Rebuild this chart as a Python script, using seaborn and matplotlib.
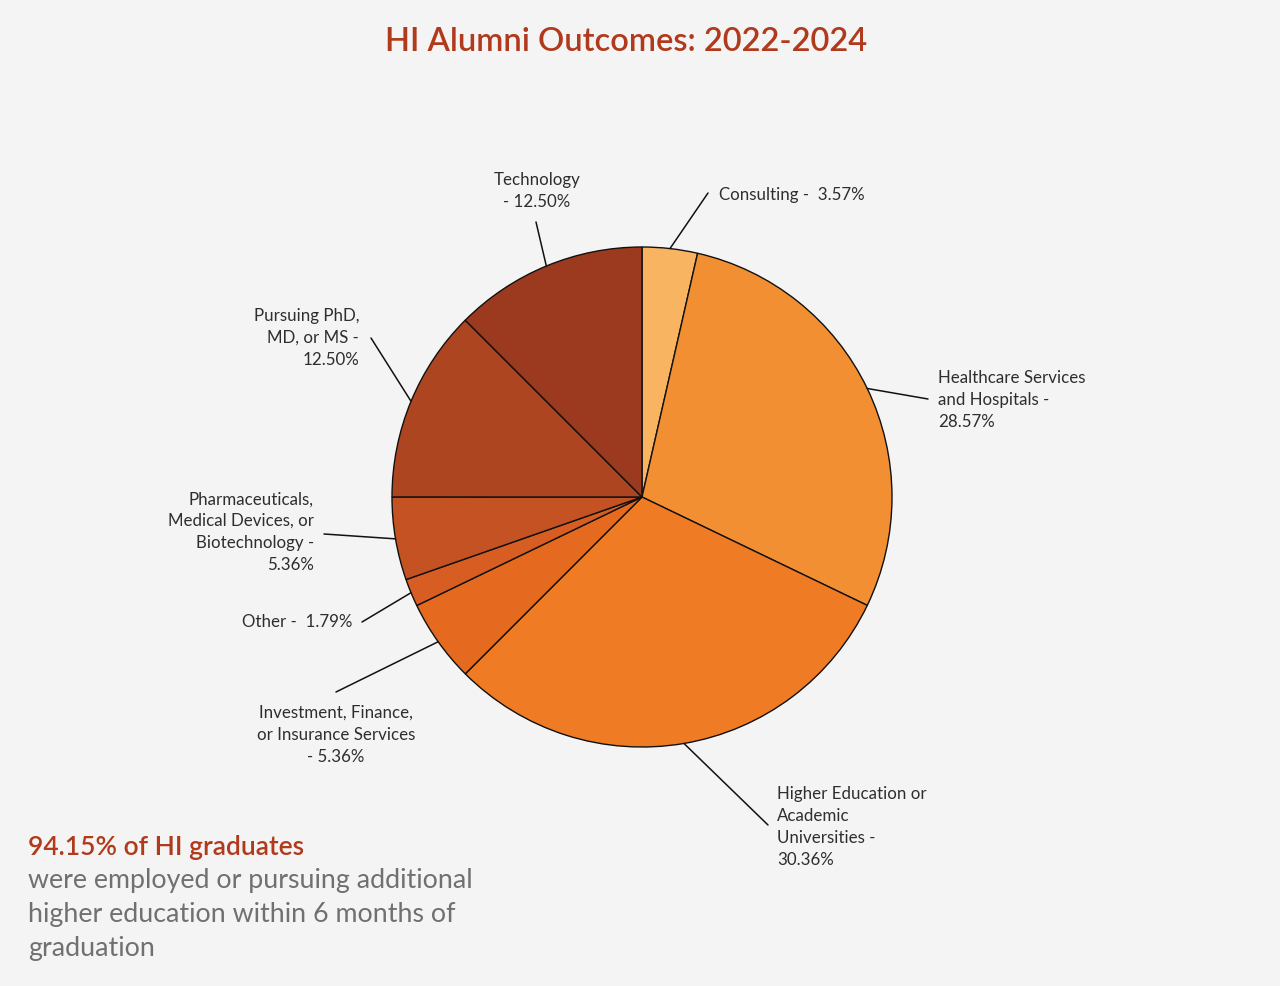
import numpy as np
import matplotlib
matplotlib.use("Agg")
import matplotlib.pyplot as plt
import seaborn as sns

# ---- data ----
categories = ["Consulting", "Healthcare Services and Hospitals", "Higher Education or Academic Universities",
              "Investment, Finance, or Insurance Services", "Other",
              "Pharmaceuticals, Medical Devices, or Biotechnology", "Pursuing PhD, MD, or MS", "Technology"]
shares = [3.57, 28.57, 30.36, 5.36, 1.79, 5.36, 12.50, 12.50]
label_texts = ["Consulting -  3.57%",
               "Healthcare Services\nand Hospitals -\n28.57%",
               "Higher Education or\nAcademic\nUniversities -\n30.36%",
               "Investment, Finance,\nor Insurance Services\n- 5.36%",
               "Other -  1.79%",
               "Pharmaceuticals,\nMedical Devices, or\nBiotechnology -\n5.36%",
               "Pursuing PhD,\nMD, or MS -\n12.50%",
               "Technology\n- 12.50%"]
colors = ["#F9B462", "#F28F32", "#EF7B25", "#E56A20", "#D85D22", "#C45222", "#AE4521", "#9C3A20"]
title = "HI Alumni Outcomes: 2022-2024"
headline = "94.15% of HI graduates"
subtext = "were employed or pursuing additional\nhigher education within 6 months of\ngraduation"

# ---- layout (styling only) ----
W, H = 1280, 986
BG = "#F4F4F4"
RED = "#B03A1B"
# leader-line outer ends (data units, radius=1) and label anchors (pixels)
line_ends = [(0.264, 1.216), (1.144, 0.392), (0.504, -1.312), (-1.224, -0.78),
             (-1.12, -0.5), (-1.272, -0.148), (-1.084, 0.636), (-0.424, 1.10)]
label_pos = [(719, 195, "left", "center", "left"),
             (938, 400, "left", "center", "left"),
             (777, 786, "left", "top", "left"),
             (336, 705, "center", "top", "center"),
             (352, 622, "right", "center", "right"),
             (314, 532, "right", "center", "right"),
             (359, 338, "right", "center", "right"),
             (537, 191, "center", "center", "center")]

sns.set_theme(style="white")
plt.rcParams["font.family"] = ["Lato", "DejaVu Sans"]

fig = plt.figure(figsize=(W / 100, H / 100), dpi=100, facecolor=BG)
cx, cy, R = 642, 497, 250
ax = fig.add_axes([(cx - R) / W, 1 - (cy + R) / H, 2 * R / W, 2 * R / H])
ax.set_facecolor(BG)

wedges, _ = ax.pie(shares, colors=colors, startangle=90, counterclock=False, radius=1,
                   wedgeprops=dict(edgecolor="#111111", linewidth=1.0))
ax.set_xlim(-1, 1)
ax.set_ylim(-1, 1)
ax.set_aspect("equal")
ax.axis("off")

for w, (ex, ey) in zip(wedges, line_ends):
    ang = np.deg2rad((w.theta1 + w.theta2) / 2)
    sx, sy = np.cos(ang), np.sin(ang)
    ax.plot([sx, ex], [sy, ey], color="#111111", lw=1.1, clip_on=False)

for txt, (px, py, ha, va, ma) in zip(label_texts, label_pos):
    fig.text(px / W, 1 - py / H, txt, ha=ha, va=va, multialignment=ma,
             fontsize=12.2, color="#2E2E2E", linespacing=1.45)

fig.text(626 / W, 1 - 42 / H, title, ha="center", va="center", fontsize=23.5,
         color=RED, fontweight="semibold")
fig.text(28 / W, 1 - 847 / H, headline, ha="left", va="center", fontsize=19,
         color=RED, fontweight="semibold")
fig.text(28 / W, 1 - 868 / H, subtext, ha="left", va="top", fontsize=19.3,
         color="#707070", linespacing=1.45)

fig.savefig("out.png", dpi=100, facecolor=BG)
